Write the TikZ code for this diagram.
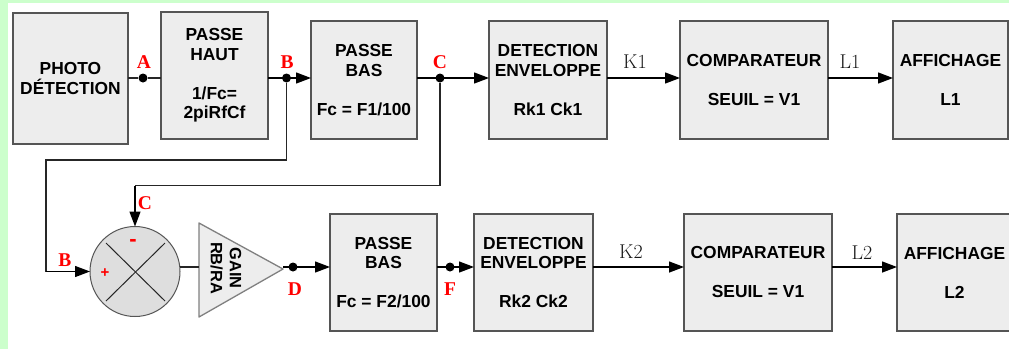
\documentclass[tikz,border=0pt]{standalone}
\usepackage{fontspec}
\newfontfamily\blockfont{Liberation Sans}
\newfontfamily\labelfont{Liberation Serif}
\usetikzlibrary{arrows.meta}
\usetikzlibrary{positioning}
\definecolor{pagegreen}{HTML}{CCFFCC}
\definecolor{blockfill}{HTML}{EDEDED}
\definecolor{sumfill}{HTML}{DEDEDE}
\definecolor{blockline}{HTML}{555555}
\tikzset{
	block/.style={rectangle, draw=blockline, fill=blockfill, line width=1.3pt, align=center, inner sep=0pt, outer sep=0pt,
		font=\fontsize{17.4}{19.5}\blockfont\bfseries},
	junction/.style={circle, fill=black, inner sep=0pt, minimum size=9pt},
	redlabel/.style={text=red, inner sep=0pt, font=\fontsize{19.5}{20}\labelfont\bfseries},
	siglabel/.style={text=black!90, inner sep=0pt, font=\fontsize{20}{20}\selectfont},
	flow/.style={draw=black, line width=1.3pt, -{Triangle[length=15pt,width=11pt]}},
	wire/.style={draw=black!85, line width=1.3pt}
}
\begin{document}
\begin{tikzpicture}[x=1pt,y=-1pt]
	\useasboundingbox (0,0) rectangle (1009,349);
	\fill[pagegreen] (0,0) rectangle (1009,349);
	\fill[white] (8,3) rectangle (1009,349);

	% first row
	\begin{scope}[every node/.append style={block}]
		\node[minimum width=115pt, minimum height=131pt] (photo) at (70.5,78.5) {PHOTO\\DÉTECTION};
		\node[minimum width=107pt, minimum height=127pt] (haut) at (214.5,75.5) {PASSE\\HAUT\\[19.5pt]1/Fc=\\2piRfCf};
		\node[minimum width=106pt, minimum height=118pt] (bas1) at (364,80) {PASSE\\BAS\\[19.5pt]Fc = F1/100};
		\node[minimum width=118pt, minimum height=118pt] (env1) at (548,80) {DETECTION\\ENVELOPPE\\[19.5pt]Rk1 Ck1};
		\node[minimum width=148pt, minimum height=118pt] (comp1) at (754,80) {COMPARATEUR\\[19.5pt]SEUIL = V1};
		\node[minimum width=115pt, minimum height=118pt] (aff1) at (950.5,80) {AFFICHAGE\\[19.5pt]L1};
	\end{scope}

	% second row
	\begin{scope}[every node/.append style={block}]
		\node[minimum width=107pt, minimum height=117pt] (bas2) at (383.5,272.5) {PASSE\\BAS\\[19.5pt]Fc = F2/100};
		\node[minimum width=119pt, minimum height=117pt] (env2) at (533.5,272.5) {DETECTION\\ENVELOPPE\\[19.5pt]Rk2 Ck2};
		\node[minimum width=148pt, minimum height=117pt] (comp2) at (758,272.5) {COMPARATEUR\\[19.5pt]SEUIL = V1};
		\node[minimum width=115pt, minimum height=117pt] (aff2) at (954.5,272.5) {AFFICHAGE\\[19.5pt]L2};
	\end{scope}

	% subtractor
	\node[circle, draw=blockline, fill=sumfill, line width=1pt, minimum size=90pt, inner sep=0pt, outer sep=0pt] (sum) at (135,271.5) {};
	\draw[line width=1pt, black!85] (106,243) -- (165,301);
	\draw[line width=1pt, black!85] (165,243) -- (106,301);
	\node[text=red, inner sep=0pt, font=\fontsize{15}{15}\blockfont\bfseries] (plus) at (105,273) {+};
	\node[text=red, inner sep=0pt, font=\fontsize{22}{22}\blockfont\bfseries] (minus) at (133,243) {-};

	% gain
	\coordinate (gainA) at (199,223);
	\coordinate (gainB) at (199,317);
	\coordinate (gainC) at (283,269);
	\draw[draw=black!50, fill=blockfill, line width=1.3pt, line join=round] (gainA) -- (gainC) -- (gainB) -- cycle;
	\node[rotate=-90, align=center, font=\fontsize{16.4}{19}\blockfont\bfseries] (gain) at (226,268) {GAIN\\RB/RA};

	% junctions
	\node[junction] (jA) at (143,78) {};
	\node[junction] (jB) at (286.5,78) {};
	\node[junction] (jC) at (440,78) {};
	\node[junction] (jD) at (293,267) {};
	\node[junction] (jF) at (450,267) {};

	\coordinate (bTurn) at (286.5,160);
	\coordinate (bDown) at (46,160);
	\coordinate (bIn) at (46,271.5);
	\coordinate (cTurn) at (440,185.5);
	\coordinate (cDown) at (135,185.5);

	% connectors
	\draw[wire] (photo.east |- jA) -- (jA) -- (haut.west |- jA);
	\draw[flow] (haut.east |- jB) -- (bas1.west |- jB);
	\draw[flow] (bas1.east |- jC) -- (env1.west |- jC);
	\draw[flow] (env1.east |- jC) -- (comp1.west |- jC);
	\draw[flow] (comp1.east |- jC) -- (aff1.west |- jC);
	\draw[wire, line join=miter] (jB) -- (bTurn) -- (bDown) -- (bIn);
	\draw[flow] (bIn) -- (sum.west);
	\draw[wire, line join=miter] (jC) -- (cTurn) -- (cDown);
	\draw[flow] (cDown) -- (sum.north);
	\draw[wire] (sum.east |- jD) -- (gainA |- jD);
	\draw[flow] (gainC |- jD) -- (bas2.west |- jD);
	\draw[flow] (bas2.east |- jF) -- (env2.west |- jF);
	\draw[flow] (env2.east |- jF) -- (comp2.west |- jF);
	\draw[flow] (comp2.east |- jF) -- (aff2.west |- jF);

	% labels
	\node[redlabel] (lA) at (144,62) {A};
	\node[redlabel] (lB) at (287,62) {B};
	\node[redlabel] (lC) at (440,62) {C};
	\node[redlabel] (lC2) at (145,203) {C};
	\node[redlabel] (lB2) at (65,260) {B};
	\node[redlabel] (lD) at (295,289) {D};
	\node[redlabel] (lF) at (450,289) {F};
	\node[siglabel] (k1) at (635,62) {K1};
	\node[siglabel] (l1) at (850,62) {L1};
	\node[siglabel] (k2) at (631,252) {K2};
	\node[siglabel] (l2) at (862,253) {L2};
\end{tikzpicture}
\end{document}
